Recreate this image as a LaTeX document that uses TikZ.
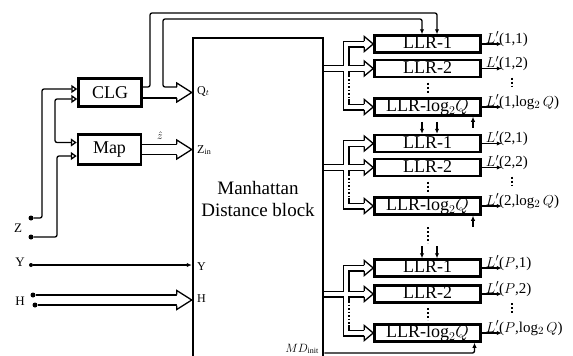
\documentclass[tikz,border=0pt]{standalone}
\usepackage{fontspec}
\setmainfont{Liberation Serif}
\usetikzlibrary{arrows.meta}

\tikzset{
  block/.style={draw, line width=2.5pt, inner sep=0pt},
  llr/.style={block, minimum width=106pt, minimum height=17pt,
    text height=12pt, text depth=3pt, font=\fontsize{18}{18}\selectfont},
  wire/.style={line width=1.3pt, rounded corners=2pt},
  sig/.style={wire, -{Latex[length=5pt,width=4.5pt]}},
  inarr/.style={wire, -{Triangle[open,length=6pt,width=8pt]}},
  busblack/.style={line width=7pt},
  buswhite/.style={white, line width=4.4pt},
  dotline/.style={line width=1.3pt, dash pattern=on 1.5pt off 2pt},
  vdotline/.style={line width=2pt, dash pattern=on 2pt off 2pt},
  terminal/.style={circle, fill, inner sep=0pt, minimum size=5pt},
  outlab/.style={anchor=west, inner sep=0pt, font=\fontsize{15}{15}\selectfont},
  inlab/.style={anchor=west, inner sep=0pt, font=\fontsize{12}{12}\selectfont},
  sidelab/.style={inner sep=0pt, font=\fontsize{13}{13}\selectfont},
  smalltip/.pic={\filldraw[fill=white, line width=1.3pt] (-9,2.85) -- (-9,7.5) -- (0,0) -- (-9,-7.5) -- (-9,-2.85);},
  bigtip/.pic={\filldraw[fill=white, line width=1.3pt] (-15,5.5) -- (-15,9.5) -- (0,0) -- (-15,-9.5) -- (-15,-5.5);}
}

\begin{document}
\begin{tikzpicture}[x=1pt, y=-1pt]
  \useasboundingbox (0,0) rectangle (573,356);
  \clip (0,0) rectangle (573,356);

  % blocks
  \node[block, minimum width=130pt, minimum height=345pt] (mdb) at (258,210.5) {};
  \node[font=\fontsize{19}{22}\selectfont, align=center] (mdbtext) at (258,199) {Manhattan\\Distance block};
  \node[block, minimum width=63pt, minimum height=28pt, font=\fontsize{18}{18}\selectfont] (clg) at (110,92.5) {CLG};
  \node[block, minimum width=63pt, minimum height=30pt, font=\fontsize{18}{18}\selectfont] (map) at (109.5,149.5) {Map};

  % labels on the block
  \node[inlab] at (197,91) {Q$_t$};
  \node[inlab] at (197,150) {Z$_{\mathrm{in}}$};
  \node[inlab] at (197,267) {Y};
  \node[inlab] at (197,299) {H};
  \node[inlab, anchor=east] at (319,349) {$MD_{\mathrm{init}}$};

  % inputs
  \node[terminal] (z1) at (31,218) {};
  \node[terminal] (z2) at (31,237) {};
  \node[terminal, minimum size=4pt] (ydot) at (31,265) {};
  \node[terminal] (h1) at (33,295) {};
  \node[terminal] (h2) at (35,305) {};
  \node[sidelab] at (18,228) {Z};
  \node[sidelab] at (20,262) {Y};
  \node[sidelab] at (20,301) {H};

  \draw[inarr] (z1) -| (42,89) -- ([yshift=3.5pt]clg.west);
  \draw[inarr] (z2) -| (57,156) -- ([yshift=-6.5pt]map.west);
  \draw[wire, {Triangle[open,length=6pt,width=8pt]}-{Triangle[open,length=6pt,width=8pt]}]
    ([yshift=-6.5pt]clg.west) -| (55,120) |- ([yshift=7pt]map.west);
  \draw[sig] (ydot) -- (mdb.west |- ydot);

  \coordinate (htip) at (mdb.west |- 0,300);
  \coordinate (hbase) at ([xshift=-15pt]htip);
  \draw[wire] (h1) -- (hbase |- h1);
  \draw[wire] (h2) -- (hbase |- h2);
  \pic at (htip) {bigtip};

  % CLG and Map outputs
  \coordinate (qtip) at (mdb.west |- clg.east);
  \coordinate (qbase) at ([xshift=-15pt]qtip);
  \draw[wire] ([yshift=-5.5pt]clg.east) -- ([yshift=-5.5pt]qbase);
  \pic at (qtip) {bigtip};
  \coordinate (ztip) at (mdb.west |- map.east);
  \coordinate (zbase) at ([xshift=-15pt]ztip);
  \draw[wire] ([yshift=5pt]map.east) -- ([yshift=5pt]zbase);
  \draw[wire] ([yshift=-5pt]map.east) -- ([yshift=-5pt]zbase);
  \pic at (ztip) {bigtip};
  \node[inlab, font=\fontsize{11}{11}\selectfont] at (157,136) {$\hat{z}$};

  % LLR groups
  \foreach \g/\ya/\yb/\yc/\lab in {1/44/68.5/107/1, 2/143.5/167.5/206/2, P/268/294/333/$P$} {
    \node[llr] (a\g) at (427.5,\ya) {LLR-1};
    \node[llr] (b\g) at (427.5,\yb) {LLR-2};
    \node[llr] (c\g) at (427.5,\yc) {LLR-log$_2Q$};
    \draw[vdotline] (427.5,\yb+14) -- (427.5,\yc-13);

    \draw[busblack] ([xshift=-9pt]a\g.west) -- (346,\ya) -- (346,\yc) -- ([xshift=-9pt]c\g.west);
    \draw[busblack] (mdb.east |- b\g.west) -- ([xshift=-9pt]b\g.west);
    \draw[buswhite] ([xshift=-9pt]a\g.west) -- (346,\ya) -- (346,\yc) -- ([xshift=-9pt]c\g.west);
    \draw[buswhite] (mdb.east |- b\g.west) -- ([xshift=-9pt]b\g.west);
    \draw[white, line width=2.4pt] (348.85,\yb+7) -- (348.85,\yc-8);
    \draw[dotline] (348.85,\yb+7) -- (348.85,\yc-8);
    \pic at (a\g.west) {smalltip};
    \pic at (b\g.west) {smalltip};
    \pic at (c\g.west) {smalltip};

    \draw[sig] (a\g.east) -- ++(20,0);
    \draw[sig] (b\g.east) -- ++(20,0);
    \draw[sig] (c\g.east) -- ++(20,0);
    \node[outlab] at ([xshift=4pt,yshift=5pt]a\g.east) {$L'$(\lab,1)};
    \node[outlab] at ([xshift=4pt,yshift=5pt]b\g.east) {$L'$(\lab,2)};
    \node[outlab] at ([xshift=4pt,yshift=5pt]c\g.east) {$L'$(\lab,log$_2$\,$Q$)};
    \draw[vdotline] (512,\yb+9) -- (512,\yc-20);
  }

  % bus from CLG over the top
  \draw[sig] ([yshift=5.5pt]clg.east) -| (150,13) -| ([xshift=9.5pt]a1.north);
  \draw[sig] ([yshift=5.5pt]qbase) -| (163,19) -| ([xshift=-5.5pt]a1.north);
  \foreach \g in {2,P} {
    \draw[sig] ([xshift=-5.5pt,yshift=12pt]a\g.north) -- ([xshift=-5.5pt]a\g.north);
    \draw[sig] ([xshift=9.5pt,yshift=12pt]a\g.north) -- ([xshift=9.5pt]a\g.north);
  }
  \draw[vdotline] (427.5,227) -- (427.5,243);

  % MD_init
  \foreach \g in {1,2} {
    \draw[sig] ([xshift=45.5pt,yshift=-11pt]c\g.south) -- ([xshift=45.5pt]c\g.south);
  }
  \draw[sig] (mdb.east |- 0,353) -| ([xshift=47pt]cP.south);
\end{tikzpicture}
\end{document}
